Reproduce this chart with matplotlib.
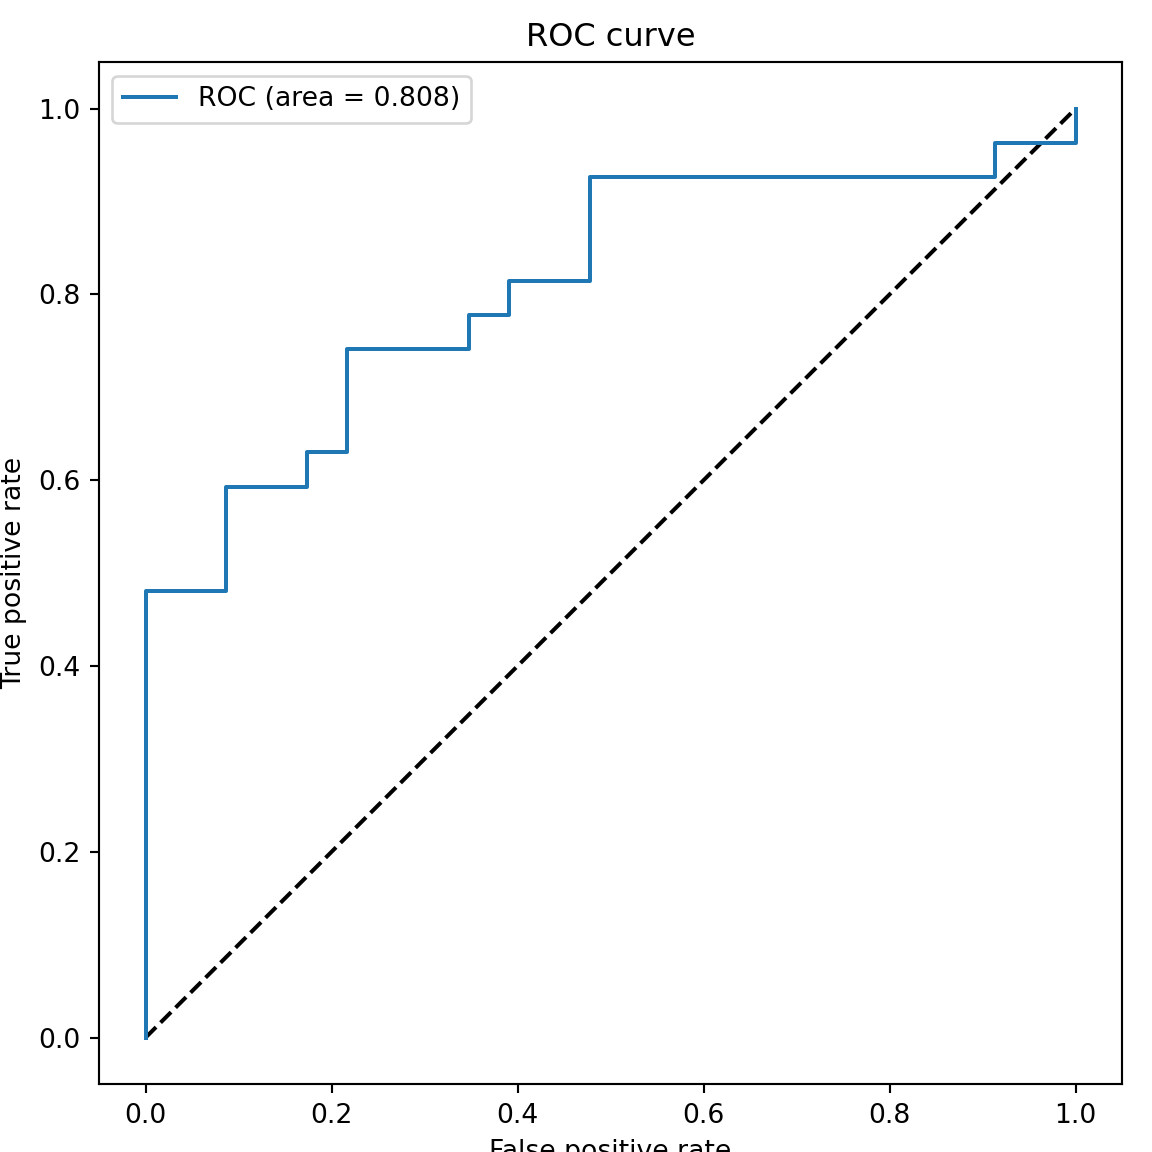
import matplotlib
matplotlib.use("Agg")
import matplotlib.pyplot as plt

# step points of the ROC curve
fpr = [0.0, 0.0, 0.087, 0.087, 0.174, 0.174, 0.217, 0.217, 0.348, 0.348,
       0.391, 0.391, 0.478, 0.478, 0.913, 0.913, 1.0, 1.0]
tpr = [0.0, 0.481, 0.481, 0.593, 0.593, 0.630, 0.630, 0.741, 0.741, 0.778,
       0.778, 0.815, 0.815, 0.926, 0.926, 0.963, 0.963, 1.0]
auc_value = 0.808

fig = plt.figure(figsize=(6, 6), dpi=192)
fig.subplots_adjust(left=0.086, right=0.974, top=0.946, bottom=0.059)
plt.plot([0, 1], [0, 1], "k--")
plt.plot(fpr, tpr, label="ROC (area = {:.3f})".format(auc_value))
plt.xlabel("False positive rate")
plt.ylabel("True positive rate")
plt.title("ROC curve")
plt.legend(loc="upper left")
plt.savefig("out.png")
plt.close()
